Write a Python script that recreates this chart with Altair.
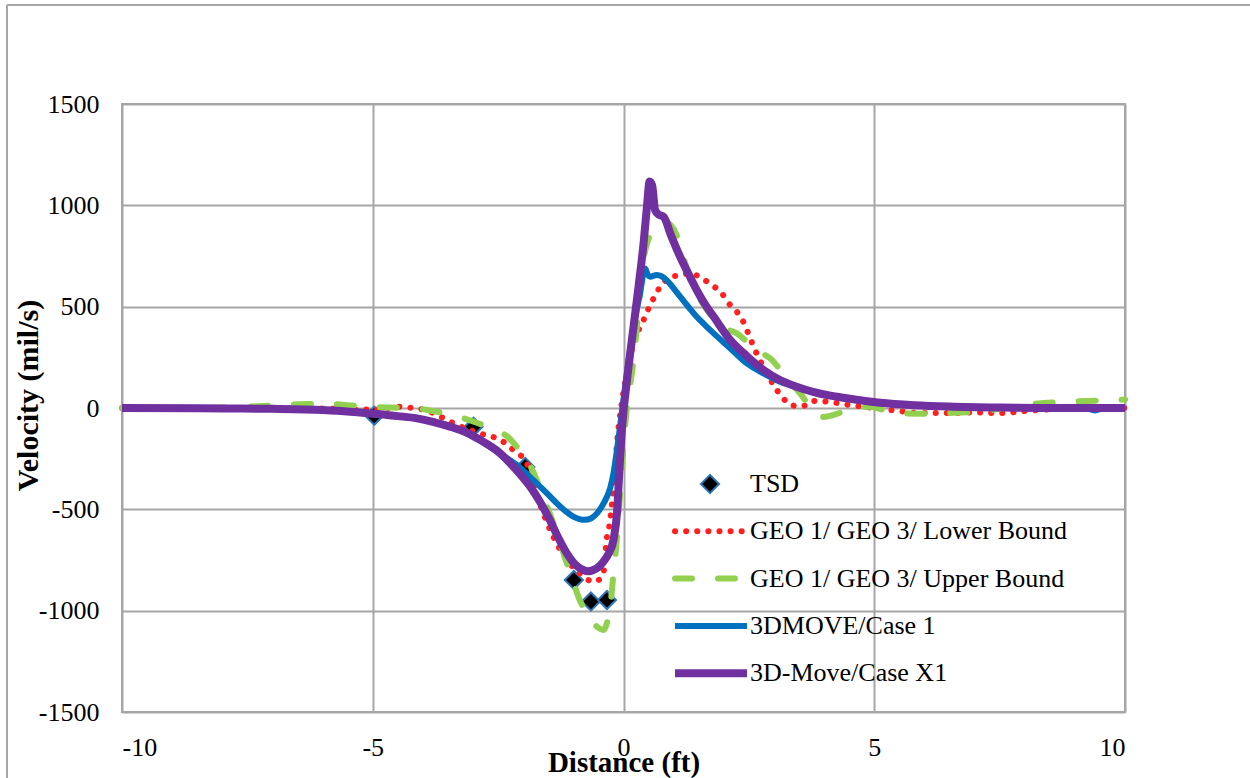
import altair as alt
import pandas as pd

# ---- measured series -------------------------------------------------------
tsd_x = [-4.97, -2.99, -1.96, -0.99, -0.65, -0.33]
tsd_y = [-38, -92, -291, -849, -955, -947]

lower_x = [-10, -8, -6, -5, -4.45, -4.2, -3.96, -3.52, -3.32, -2.86, -2.4, -2.2,
           -1.93, -1.8, -1.67, -1.4, -1.13, -0.87, -0.6, -0.45, -0.4, -0.33,
           -0.28, -0.22, -0.16, -0.13, -0.05, 0.05, 0.2, 0.4, 0.5, 0.6, 0.73,
           0.9, 1.13, 1.33, 1.56, 1.76, 1.96, 2.1, 2.26, 2.4, 2.5, 2.6, 2.7,
           2.8, 3.0, 3.16, 3.33, 3.56, 3.78, 4.1, 4.5, 5.0, 5.5, 5.9, 6.5, 7.0,
           7.5, 8.1, 8.6, 9.0, 10]
lower_y = [0, 0, -3, -8, 6, 0, -10, -59, -84, -125, -166, -207,
           -273, -370, -470, -635, -750, -816, -857, -840, -816, -635,
           -577, -446, -273, -174, 0, 150, 319, 434, 491, 541, 598,
           640, 656, 664, 640, 607, 566, 516, 475, 420, 360, 300, 245,
           200, 110, 56, 15, 8, 35, 30, 15, 0, -15, -25, -25, -22,
           -25, -13, -5, 0, 0]

upper_x = [-10, -8, -7.2, -6.5, -5.9, -5.4, -5.0, -4.6, -4.2, -3.8, -3.5, -3.2,
           -2.9, -2.72, -2.5, -2.32, -2.15, -1.99, -1.85, -1.73, -1.6, -1.47,
           -1.3, -1.16, -1.0, -0.87, -0.73, -0.6, -0.5, -0.4, -0.33, -0.26,
           -0.2, -0.13, -0.06, 0.0, 0.05, 0.13, 0.2, 0.3, 0.4, 0.5, 0.6, 0.75,
           0.86, 1.06, 1.25, 1.46, 1.7, 1.93, 2.1, 2.26, 2.45, 2.66, 2.96,
           3.12, 3.29, 3.52, 3.78, 3.95, 4.1, 4.3, 4.57, 4.9, 5.2, 5.55, 6.0,
           6.4, 7.1, 7.6, 8.0, 8.9, 9.7, 10]
upper_y = [0, 2, 10, 18, 20, 12, 5, 2, 0, -15, -30, -50,
           -75, -92, -115, -140, -185, -230, -290, -355, -440, -520,
           -640, -745, -860, -950, -1013, -1060, -1085, -1095, -1060, -970,
           -816, -640, -400, -190, -40, 105, 237, 480, 730, 835, 880, 915,
           915, 853, 700, 570, 470, 410, 385, 368, 330, 286, 237,
           190, 138, 72, -10, -45, -40, -25, -8, 6, -10, -26, -28,
           -25, -18, 0, 15, 31, 39, 42]

case1_x = [-10, -8, -7, -6, -5.45, -5, -4.5, -4.12, -3.8, -3.46, -3.1, -2.8,
           -2.66, -2.4, -2.13, -1.93, -1.73, -1.53, -1.33, -1.15, -1.0, -0.88,
           -0.77, -0.65, -0.53, -0.43, -0.33, -0.26, -0.2, -0.1, 0.0, 0.1,
           0.2, 0.33, 0.43, 0.48, 0.53, 0.66, 0.76, 0.86, 1.0, 1.13, 1.3,
           1.46, 1.63, 1.8, 2.13, 2.46, 2.79, 3.12, 3.45, 3.78, 4.1, 4.45,
           5.12, 5.8, 6.5, 7.5, 8.5, 9.2, 9.4, 9.6, 10]
case1_y = [0, -2, -4, -10, -18, -28, -40, -51, -68, -92, -125, -166,
           -191, -235, -281, -325, -372, -420, -470, -510, -536, -548,
           -552, -545, -520, -485, -438, -390, -322, -150, 40, 230,
           400, 566, 688, 660, 648, 656, 650, 631, 590, 549, 497,
           450, 408, 368, 294, 220, 171, 130, 103, 80, 62, 48,
           26, 14, 7, 2, 0, 0, -12, 0, 0]

casex1_x = [-10, -8, -7, -6, -5.45, -5, -4.5, -4.12, -3.8, -3.46, -3.1, -2.8,
            -2.5, -2.26, -2.05, -1.86, -1.66, -1.47, -1.3, -1.13, -0.95, -0.8,
            -0.7, -0.6, -0.5, -0.4, -0.3, -0.2, -0.13, -0.08, -0.03, 0.07,
            0.2, 0.3, 0.4, 0.47, 0.52, 0.57, 0.63, 0.7, 0.8, 0.95, 1.13, 1.3,
            1.46, 1.63, 1.8, 2.13, 2.46, 2.79, 3.12, 3.45, 3.78, 4.1, 4.45,
            5.12, 5.8, 6.5, 7.5, 8.5, 10]
casex1_y = [0, -2, -4, -10, -18, -28, -40, -51, -68, -92, -125, -166,
            -215, -272, -330, -388, -465, -552, -640, -717, -775, -799,
            -805, -799, -785, -758, -720, -651, -518, -300, -100, 138,
            401, 600, 812, 1000, 1117, 1100, 977, 955, 944, 850, 746, 660,
            582, 510, 450, 335, 256, 188, 138, 105, 80, 62, 48,
            26, 14, 7, 2, 0, 0]

series_names = ["TSD", "GEO 1/ GEO 3/ Lower Bound", "GEO 1/ GEO 3/ Upper Bound",
                "3DMOVE/Case 1", "3D-Move/Case X1"]

x_ticks = [-10, -5, 0, 5, 10]
y_ticks = [-1500, -1000, -500, 0, 500, 1000, 1500]

# ---- styling ---------------------------------------------------------------
FONT = "Liberation Serif"
GRID = "#a6a6a6"
RED = "#ff1f1f"
GREEN = "#92d050"
BLUE = "#0070c0"
PURPLE = "#7030a0"
TSD_EDGE = "#2e75b6"

W, H = 1003, 608
PLAIN_NUMBER = "datum.value + ''"

X = alt.X("x:Q",
          scale=alt.Scale(domain=[-10, 10], nice=False, zero=False),
          axis=alt.Axis(values=x_ticks, title="Distance (ft)", labelBaseline="top",
                        labelPadding=22, labelExpr=PLAIN_NUMBER,
                        titleY=59, titleBaseline="alphabetic", titleFontSize=29))
Y = alt.Y("y:Q",
          scale=alt.Scale(domain=[-1500, 1500], nice=False, zero=False),
          axis=alt.Axis(values=y_ticks, title="Velocity (mil/s)", labelPadding=23,
                        labelExpr=PLAIN_NUMBER,
                        titleX=-85, titleY=291, titleAngle=-90,
                        titleBaseline="alphabetic", titleFontSize=30))


def frame(xs, ys):
    return pd.DataFrame({"x": xs, "y": ys})


tsd = alt.Chart(frame(tsd_x, tsd_y)).mark_point(
    shape="diamond", size=330, filled=True, fill="black",
    stroke=TSD_EDGE, strokeWidth=2, opacity=1
).encode(x=X, y=Y)

lower = alt.Chart(frame(lower_x, lower_y)).mark_line(
    color=RED, strokeWidth=6, strokeDash=[0.1, 11], strokeCap="round",
    interpolate="monotone"
).encode(x=X, y=Y)

upper = alt.Chart(frame(upper_x, upper_y)).mark_line(
    color=GREEN, strokeWidth=6, strokeDash=[17, 26], strokeCap="round",
    interpolate="monotone"
).encode(x=X, y=Y)

case1 = alt.Chart(frame(case1_x, case1_y)).mark_line(
    color=BLUE, strokeWidth=6, interpolate="monotone"
).encode(x=X, y=Y)

casex1 = alt.Chart(frame(casex1_x, casex1_y)).mark_line(
    color=PURPLE, strokeWidth=8, interpolate="monotone"
).encode(x=X, y=Y)

# ---- legend drawn inside the plot area -------------------------------------
one = pd.DataFrame({"k": [0]})
LEG_TEXT_X = 628
LEG_LINE_X0, LEG_LINE_X1 = 553, 625
LEG_ROW0, LEG_STEP = 380, 47.3

legend_layers = []
row_y = [LEG_ROW0 + i * LEG_STEP for i in range(len(series_names))]

legend_layers.append(
    alt.Chart(one).mark_point(shape="diamond", size=330, filled=True, fill="black",
                              stroke=TSD_EDGE, strokeWidth=2, opacity=1)
    .encode(x=alt.value(588), y=alt.value(row_y[0]))
)
line_styles = [
    dict(color=RED, strokeWidth=6, strokeDash=[0.1, 11], strokeCap="round"),
    dict(color=GREEN, strokeWidth=6, strokeDash=[17, 26], strokeCap="round"),
    dict(color=BLUE, strokeWidth=6),
    dict(color=PURPLE, strokeWidth=8),
]
for ry, st in zip(row_y[1:], line_styles):
    legend_layers.append(
        alt.Chart(one).mark_rule(**st).encode(
            x=alt.value(LEG_LINE_X0), x2=alt.value(LEG_LINE_X1), y=alt.value(ry))
    )
for ry, name in zip(row_y, series_names):
    legend_layers.append(
        alt.Chart(one).mark_text(text=name, font=FONT, fontSize=26, color="black",
                                 align="left", baseline="middle")
        .encode(x=alt.value(LEG_TEXT_X), y=alt.value(ry))
    )

# ---- outer chart border ----------------------------------------------------
border_left = alt.Chart(one).mark_rule(color=GRID, strokeWidth=2).encode(
    x=alt.value(-115), y=alt.value(-99), y2=alt.value(700))
border_top = alt.Chart(one).mark_rule(color=GRID, strokeWidth=2).encode(
    x=alt.value(-115), x2=alt.value(1200), y=alt.value(-99))

chart = alt.layer(
    border_left, border_top, tsd, lower, upper, case1, casex1, *legend_layers
).properties(
    width=W, height=H,
    autosize=alt.AutoSizeParams(type="none"),
    padding={"left": 122, "top": 104, "right": 125, "bottom": 66},
    background="white",
).configure_view(
    stroke=GRID, strokeWidth=2
).configure_axis(
    grid=True, gridColor=GRID, gridWidth=2, domain=False, ticks=False, tickSize=0,
    labelFont=FONT, labelFontSize=26, labelColor="black",
    titleFont=FONT, titleFontWeight="bold", titleColor="black",
)

chart.save("out.html", embed_options={"renderer": "svg", "actions": False})
